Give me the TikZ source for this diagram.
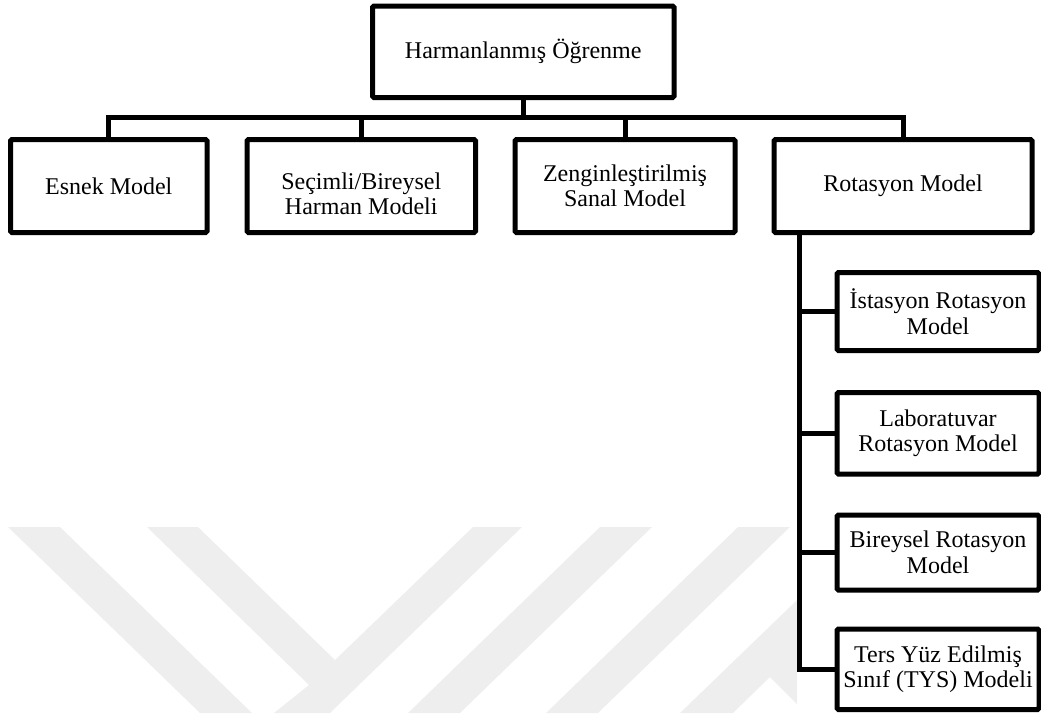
\documentclass[tikz,border=0pt]{standalone}
\usepackage{fontspec}
\setmainfont{Liberation Serif}
\definecolor{wm}{RGB}{238,238,238}
\tikzset{
  box/.style={draw=black, line width=5pt, fill=white, inner sep=0pt, outer sep=0pt,
    align=center, font=\fontsize{24}{25.5}\selectfont, rounded corners=1.5pt},
  conn/.style={draw=black, line width=5pt},
  mark wm/.style={fill=wm, draw=none}
}
\begin{document}
\begin{tikzpicture}[x=1pt,y=-1pt]
\useasboundingbox (0,0) rectangle (1041,713);
% watermark
\fill[mark wm] (8,527) -- (60,527) -- (252,713) -- (200,713) -- cycle;
\fill[mark wm] (147,527) -- (198,527) -- (335,660) -- (473,527) -- (522,527) -- (330,713) -- (274,713) -- (309,685) -- cycle;
\fill[mark wm] (600,527) -- (652,527) -- (460,713) -- (408,713) -- cycle;
\fill[mark wm] (738,527) -- (790,527) -- (598,713) -- (546,713) -- cycle;
\fill[mark wm] (680,713) -- (797,600) -- (797,704) -- (770,677) -- (733,713) -- cycle;
% nodes
\node[box, minimum width=301.5pt, minimum height=91.5pt] (top) at (523.25,51.75) {Harmanlanmış Öğrenme};
\node[box, minimum width=196.5pt, minimum height=93pt] (esnek) at (108.75,186) {Esnek Model};
\node[box, minimum width=228.5pt, minimum height=93pt] (secimli) at (361.25,186)
  {\raisebox{0pt}[\dimexpr\height+22pt\relax][\depth]{\begin{tabular}{@{}c@{}}Seçimli/Bireysel\\Harman Modeli\end{tabular}}};
\node[box, minimum width=220pt, minimum height=93pt] (zengin) at (625,186) {Zenginleştirilmiş\\Sanal Model};
\node[box, minimum width=258pt, minimum height=93pt] (rot) at (903,186) {Rotasyon Model};
\node[box, minimum width=202pt, minimum height=78pt] (ist) at (938,311.5) {İstasyon Rotasyon\\Model};
\node[box, minimum width=202pt, minimum height=81.5pt] (lab) at (938,433.25) {Laboratuvar\\Rotasyon Model};
\node[box, minimum width=202pt, minimum height=75pt] (bir) at (938,552.5) {Bireysel Rotasyon\\Model};
\node[box, minimum width=202pt, minimum height=80.5pt] (ters) at (938,669.25) {Ters Yüz Edilmiş\\Sınıf (TYS) Modeli};
% connectors
\coordinate (bus) at (0,117.5);
\coordinate (trunk) at (799,0);
\draw[conn] (top.south) -- (top.south |- bus);
\draw[conn] (esnek.north) -- (esnek.north |- bus) -- (rot.north |- bus) -- (rot.north);
\draw[conn] (secimli.north |- bus) -- (secimli.north);
\draw[conn] (zengin.north |- bus) -- (zengin.north);
\draw[conn] (rot.south -| trunk) -- (ters.west -| trunk) -- (ters.west);
\draw[conn] (ist.west -| trunk) -- (ist.west);
\draw[conn] (lab.west -| trunk) -- (lab.west);
\draw[conn] (bir.west -| trunk) -- (bir.west);
\end{tikzpicture}
\end{document}
